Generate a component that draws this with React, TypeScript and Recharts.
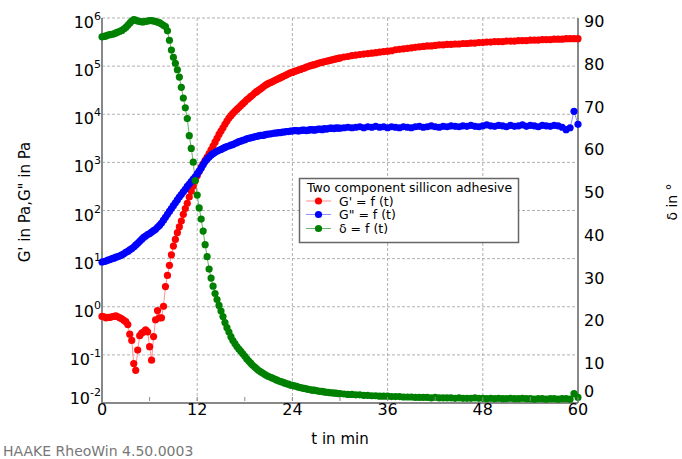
import React from 'react';
import { ComposedChart, Line, XAxis, YAxis, CartesianGrid } from 'recharts';

const FONT = '"DejaVu Sans", Verdana, sans-serif';

// t in min
const time = [
  0, 0.25, 0.5, 0.75, 1, 1.25, 1.5, 1.75, 2, 2.25, 2.5, 2.75, 3, 3.25, 3.5, 3.75,
  4, 4.25, 4.5, 4.75, 5, 5.25, 5.5, 5.75, 6, 6.25, 6.5, 6.75, 7, 7.25, 7.5, 7.75,
  8, 8.25, 8.5, 8.75, 9, 9.25, 9.5, 9.75, 10, 10.25, 10.5, 10.75, 11, 11.25, 11.5, 11.75,
  12, 12.25, 12.5, 12.75, 13, 13.25, 13.5, 13.75, 14, 14.25, 14.5, 14.75, 15, 15.25, 15.5, 15.75,
  16, 16.25, 16.5, 16.75, 17, 17.25, 17.5, 17.75,
  18, 18.25, 18.5, 18.75, 19, 19.25, 19.5, 19.75,
  20, 20.25, 20.5, 20.75, 21, 21.25, 21.5, 21.75,
  22, 22.25, 22.5, 22.75, 23, 23.25, 23.5, 23.75,
  24, 24.25, 24.5, 24.75, 25, 25.25, 25.5, 25.75,
  26, 26.25, 26.5, 26.75, 27, 27.25, 27.5, 27.75,
  28, 28.25, 28.5, 28.75, 29, 29.25, 29.5, 29.75,
  30,
  30.5, 31, 31.5, 32, 32.5, 33, 33.5, 34, 34.5, 35,
  35.5, 36, 36.5, 37, 37.5, 38, 38.5, 39, 39.5, 40,
  40.5, 41, 41.5, 42, 42.5, 43, 43.5, 44, 44.5, 45,
  45.5, 46, 46.5, 47, 47.5, 48, 48.5, 49, 49.5, 50,
  50.5, 51, 51.5, 52, 52.5, 53, 53.5, 54, 54.5, 55,
  55.5, 56, 56.5, 57, 57.5, 58, 58.5, 59, 59.5, 60,
];

// G' in Pa, as log10 values
const gPrimeLog10 = [
  -0.2, -0.21, -0.23, -0.22, -0.22, -0.21, -0.2, -0.19, -0.21, -0.23, -0.25, -0.28, -0.31, -0.37, -0.57, -0.7,
  -1.18, -1.32, -0.9, -0.6, -0.55, -0.52, -0.48, -0.52, -0.83, -1.11, -0.62, -0.27, -0.08, -0.23, -0.23, 0.01,
  0.42, 0.65, 0.86, 1.08, 1.26, 1.4, 1.54, 1.66, 1.78, 1.92, 2.04, 2.15, 2.28, 2.4, 2.51, 2.62,
  2.72, 2.81, 2.9, 2.97, 3.04, 3.11, 3.18, 3.26, 3.34, 3.42, 3.5, 3.58, 3.65, 3.72, 3.79, 3.86,
  3.92, 3.97, 4.02, 4.06, 4.1, 4.14, 4.18, 4.22,
  4.26, 4.3, 4.33, 4.37, 4.4, 4.44, 4.47, 4.5,
  4.53, 4.56, 4.59, 4.62, 4.64, 4.66, 4.68, 4.7,
  4.72, 4.74, 4.76, 4.78, 4.8, 4.82, 4.84, 4.86,
  4.87, 4.89, 4.9, 4.92, 4.93, 4.95, 4.96, 4.98,
  4.99, 5.01, 5.02, 5.03, 5.04, 5.06, 5.07, 5.08,
  5.09, 5.1, 5.11, 5.12, 5.13, 5.14, 5.15, 5.16,
  5.17,
  5.19, 5.2, 5.22, 5.23, 5.24, 5.25, 5.26, 5.27, 5.28, 5.29,
  5.3, 5.31, 5.32, 5.34, 5.35, 5.36, 5.37, 5.38, 5.39, 5.4,
  5.41, 5.42, 5.42, 5.43, 5.44, 5.44, 5.45, 5.45, 5.46, 5.46,
  5.47, 5.47, 5.48, 5.48, 5.49, 5.49, 5.5, 5.5, 5.51, 5.51,
  5.51, 5.52, 5.52, 5.52, 5.53, 5.53, 5.53, 5.54, 5.54, 5.54,
  5.55, 5.55, 5.55, 5.56, 5.56, 5.56, 5.57, 5.57, 5.57, 5.57,
];

// G" in Pa, log10
const gDoublePrimeLog10 = [
  0.93, 0.94, 0.95, 0.97, 0.98, 1.0, 1.01, 1.03, 1.04, 1.06, 1.08, 1.1, 1.13, 1.15, 1.18, 1.21,
  1.24, 1.28, 1.32, 1.36, 1.4, 1.44, 1.47, 1.5, 1.52, 1.55, 1.58, 1.61, 1.65, 1.69, 1.74, 1.8,
  1.86, 1.92, 1.98, 2.04, 2.1, 2.16, 2.22, 2.28, 2.33, 2.39, 2.44, 2.5, 2.55, 2.6, 2.65, 2.7,
  2.76, 2.82, 2.88, 2.95, 3.02, 3.07, 3.11, 3.15, 3.18, 3.21, 3.23, 3.25, 3.27, 3.29, 3.31, 3.33,
  3.34, 3.36, 3.37, 3.39, 3.41, 3.43, 3.44, 3.46,
  3.47, 3.49, 3.5, 3.51, 3.52, 3.53, 3.54, 3.55,
  3.56, 3.56, 3.57, 3.58, 3.59, 3.59, 3.6, 3.61,
  3.61, 3.62, 3.62, 3.63, 3.63, 3.64, 3.64, 3.65,
  3.65, 3.66, 3.66, 3.65, 3.66, 3.67, 3.67, 3.66,
  3.67, 3.68, 3.68, 3.67, 3.68, 3.69, 3.69, 3.68,
  3.7, 3.69, 3.7, 3.71, 3.71, 3.7, 3.72, 3.71,
  3.71,
  3.72, 3.73, 3.72, 3.73, 3.74, 3.72, 3.74, 3.73, 3.75, 3.73,
  3.74, 3.72, 3.74, 3.73, 3.72, 3.74, 3.73, 3.72, 3.74, 3.75,
  3.73, 3.74, 3.76, 3.74, 3.73, 3.75, 3.74, 3.76, 3.75, 3.74,
  3.76, 3.75, 3.77, 3.75, 3.74, 3.76, 3.78, 3.76, 3.75, 3.77,
  3.76, 3.74, 3.77, 3.75, 3.76, 3.78, 3.75, 3.77, 3.76, 3.74,
  3.77, 3.76, 3.75, 3.77, 3.76, 3.73, 3.68, 3.72, 4.06, 3.79,
];

// δ in °
const delta = [
  85.6, 85.7, 85.8, 86.0, 86.1, 86.2, 86.3, 86.5, 86.7, 86.9, 87.1, 87.4, 87.8, 88.3, 88.8, 89.3,
  89.6, 89.5, 89.3, 89.2, 89.1, 89.1, 89.2, 89.3, 89.4, 89.4, 89.3, 89.2, 89.0, 88.9, 88.6, 88.3,
  88.0, 87.0, 84.8, 82.5, 80.8, 79.4, 77.9, 76.2, 73.8, 71.3, 69.0, 66.5, 62.5, 59.5, 56.3, 52.0,
  48.6, 45.6, 43.0, 40.2, 37.0, 34.2, 31.3, 29.2, 27.3, 25.6, 24.2, 22.8, 21.5, 20.2, 18.8, 17.6,
  16.6, 15.5, 14.6, 13.9, 13.2, 12.6, 12.1, 11.5,
  10.9, 10.3, 9.8, 9.3, 8.8, 8.4, 8.0, 7.6,
  7.3, 7.0, 6.7, 6.4, 6.2, 6.0, 5.8, 5.6,
  5.4, 5.2, 5.0, 4.9, 4.7, 4.5, 4.4, 4.2,
  4.1, 4.0, 3.9, 3.7, 3.6, 3.5, 3.4, 3.3,
  3.2, 3.1, 3.0, 3.0, 2.9, 2.8, 2.7, 2.7,
  2.6, 2.5, 2.5, 2.4, 2.4, 2.3, 2.3, 2.2,
  2.2,
  2.1, 2.0, 2.0, 1.9, 1.9, 1.8, 1.8, 1.7, 1.7, 1.6,
  1.6, 1.6, 1.5, 1.5, 1.5, 1.4, 1.4, 1.4, 1.3, 1.3,
  1.3, 1.3, 1.2, 1.3, 1.2, 1.2, 1.2, 1.2, 1.1, 1.2,
  1.1, 1.1, 1.1, 1.2, 1.1, 1.1, 1.0, 1.1, 1.0, 1.1,
  1.0, 1.0, 1.1, 1.0, 1.0, 1.1, 1.0, 1.0, 0.9, 1.0,
  1.0, 0.9, 1.0, 1.0, 0.9, 1.0, 1.0, 0.9, 2.2, 1.3,
];

const xTicks = [0, 6, 12, 18, 24, 30, 36, 42, 48, 54, 60];
const xGrid = [12, 24, 36, 48];
const leftTicks = [1e-2, 1e-1, 1e0, 1e1, 1e2, 1e3, 1e4, 1e5, 1e6];
const rightTicks = [0, 10, 20, 30, 40, 50, 60, 70, 80, 90];

const legendTitle = 'Two component sillicon adhesive';
const seriesNames = ["G' = f (t)", 'G" = f (t)', 'δ = f (t)'];

const data = time.map((t, i) => ({
  t,
  gp: Math.pow(10, gPrimeLog10[i]),
  gpp: Math.pow(10, gDoublePrimeLog10[i]),
  delta: delta[i],
}));

const AXIS = '#888888';
const DOT_R = 3.6;

const LeftTick = (props: any) => {
  const { y, payload } = props;
  const e = Math.round(Math.log10(payload.value));
  const base = e === -2 ? y + 1 : y + 10;
  return (
    <text x={101} y={base} textAnchor='end' fontFamily={FONT} fontSize={16} fill='#000'>
      <tspan>10</tspan>
      <tspan dy={-8} fontSize={11}>{e}</tspan>
    </text>
  );
};

const RightTick = (props: any) => {
  const { y, payload } = props;
  // the 0 label is lifted so it stays clear of the x axis "60"
  const base = payload.value === 0 ? y - 6 : y + 9;
  return (
    <text x={584} y={base} textAnchor='start' fontFamily={FONT} fontSize={16} fill='#000'>
      {payload.value}
    </text>
  );
};

const XTick = (props: any) => {
  const { x, payload } = props;
  const major = payload.value % 12 === 0;
  return (
    <g>
      <line x1={x} x2={x} y1={397} y2={401} stroke={AXIS} strokeWidth={1} />
      {major && (
        <text x={x} y={415} textAnchor='middle' fontFamily={FONT} fontSize={16} fill='#000'>
          {payload.value}
        </text>
      )}
    </g>
  );
};

const legendColors = [
  { dot: '#ff0000', line: '#ff9090' },
  { dot: '#0000ff', line: '#9090ff' },
  { dot: '#008000', line: '#70b070' },
];

export default function App() {
  return (
    <div style={{ position: 'absolute', left: 0, top: 0, width: 682, height: 459, background: '#fff' }}>
      <ComposedChart
        width={682}
        height={459}
        data={data}
        margin={{ top: 18, right: 64, bottom: 26, left: 42 }}
      >
        <CartesianGrid
          yAxisId='left'
          stroke='#b0b0b0'
          strokeDasharray='3 2'
          verticalValues={xGrid}
        />
        <XAxis
          dataKey='t'
          type='number'
          domain={[0, 60]}
          ticks={xTicks}
          interval={0}
          tick={XTick}
          tickLine={false}
          axisLine={{ stroke: AXIS, strokeWidth: 2 }}
          height={30}
        />
        <YAxis
          yAxisId='left'
          type='number'
          scale='log'
          domain={[0.01, 1e6]}
          allowDataOverflow
          ticks={leftTicks}
          interval={0}
          tick={LeftTick}
          tickLine={false}
          axisLine={{ stroke: AXIS, strokeWidth: 2 }}
          width={60}
        />
        <YAxis
          yAxisId='right'
          orientation='right'
          type='number'
          domain={[0, 90]}
          ticks={rightTicks}
          interval={0}
          tick={RightTick}
          tickLine={false}
          axisLine={{ stroke: AXIS, strokeWidth: 2 }}
          width={40}
        />
        <Line
          yAxisId='left'
          type='linear'
          dataKey='gp'
          stroke='#ff9090'
          strokeWidth={1}
          dot={{ r: DOT_R, fill: '#ff0000', stroke: 'none' }}
          activeDot={false}
          isAnimationActive={false}
        />
        <Line
          yAxisId='left'
          type='linear'
          dataKey='gpp'
          stroke='#9090ff'
          strokeWidth={1}
          dot={{ r: DOT_R, fill: '#0000ff', stroke: 'none' }}
          activeDot={false}
          isAnimationActive={false}
        />
        <Line
          yAxisId='right'
          type='linear'
          dataKey='delta'
          stroke='#70b070'
          strokeWidth={1}
          dot={{ r: DOT_R, fill: '#008000', stroke: 'none' }}
          activeDot={false}
          isAnimationActive={false}
        />
      </ComposedChart>

      <svg
        width={682}
        height={459}
        style={{ position: 'absolute', left: 0, top: 0, pointerEvents: 'none' }}
      >
        {/* legend */}
        <rect x={299.5} y={178.5} width={219} height={64} fill='#fff' stroke='#666' strokeWidth={1.5} />
        <text x={307} y={191.5} fontFamily={FONT} fontSize={12.5} fill='#000'>
          {legendTitle}
        </text>
        {seriesNames.map((name, i) => {
          const cy = [201, 214.5, 228.5][i];
          return (
            <g key={name}>
              <line x1={306} x2={331} y1={cy} y2={cy} stroke={legendColors[i].line} strokeWidth={1} />
              <circle cx={318.5} cy={cy} r={DOT_R} fill={legendColors[i].dot} />
              <text x={339} y={cy + 4.5} fontFamily={FONT} fontSize={12.5} fill='#000'>
                {name}
              </text>
            </g>
          );
        })}

        {/* axis titles */}
        <text
          transform='translate(30,202) rotate(-90)'
          textAnchor='middle'
          fontFamily={FONT}
          fontSize={15}
          fill='#000'
        >
          G' in Pa,G" in Pa
        </text>
        <text
          transform='translate(677,202) rotate(-90)'
          textAnchor='middle'
          fontFamily={FONT}
          fontSize={14}
          fill='#000'
        >
          δ in °
        </text>
        <text x={340} y={444} textAnchor='middle' fontFamily={FONT} fontSize={15} fill='#000'>
          t in min
        </text>
        <text x={3} y={456} fontFamily={FONT} fontSize={14} fill='#777'>
          HAAKE RheoWin 4.50.0003
        </text>
      </svg>
    </div>
  );
}
